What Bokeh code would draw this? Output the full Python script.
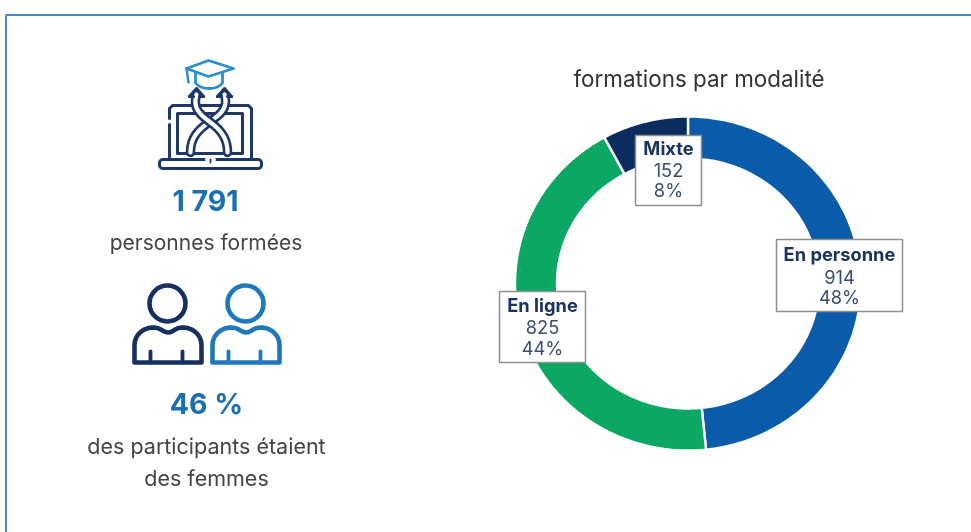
import numpy as np
from bokeh.plotting import figure
from bokeh.models import Range1d
from bokeh.core.properties import value
from bokeh.embed import file_html
from bokeh.resources import INLINE

categories = ["En personne", "En ligne", "Mixte"]
counts = [914, 825, 152]
percents = ["48%", "44%", "8%"]
colors = ["#0a5cab", "#0aa863", "#0b2c5e"]
title = "formations par modalité"
total_people = "1 791"
total_caption = "personnes formées"
women_share = "46 %"
women_caption = ["des participants étaient", "des femmes"]

W, H = 971, 532
FONT = value("Inter")
NAVY = "#1d3866"
MID = "#1f78bb"
LIGHT = "#2b8fd0"


def Y(y):
    return H - np.asarray(y, dtype=float)


p = figure(width=W, height=H, x_range=Range1d(0, W), y_range=Range1d(0, H),
           output_backend="svg", toolbar_location=None, min_border=0,
           styles={"position": "fixed", "left": "0px", "top": "0px"})
p.axis.visible = False
p.grid.visible = False
p.outline_line_color = None
p.background_fill_color = "white"
p.border_fill_color = "white"

# frame
p.line([5.5, 5.5, W], Y([H, 14.5, 14.5]), line_color="#4f86c6", line_width=2)


def bez(a, b, c, d, n=40):
    t = np.linspace(0, 1, n)[:, None]
    a, b, c, d = map(np.array, (a, b, c, d))
    return (1 - t) ** 3 * a + 3 * (1 - t) ** 2 * t * b + 3 * (1 - t) * t ** 2 * c + t ** 3 * d


def path(pts, color, w=3.0):
    pts = np.asarray(pts, dtype=float)
    p.line(pts[:, 0], Y(pts[:, 1]), line_color=color, line_width=w,
           line_join="round", line_cap="round")


def rrect(x0, y0, x1, y1, r):
    k = 0.55 * r
    return np.vstack([
        [[x0 + r, y0], [x1 - r, y0]],
        bez((x1 - r, y0), (x1 - r + k, y0), (x1, y0 + r - k), (x1, y0 + r), 8),
        [[x1, y1 - r]],
        bez((x1, y1 - r), (x1, y1 - r + k), (x1 - r + k, y1), (x1 - r, y1), 8),
        [[x0 + r, y1]],
        bez((x0 + r, y1), (x0 + r - k, y1), (x0, y1 - r + k), (x0, y1 - r), 8),
        [[x0, y0 + r]],
        bez((x0, y0 + r), (x0, y0 + r - k), (x0 + r - k, y0), (x0 + r, y0), 8),
    ])


# graduation / laptop icon
path([[169, 118], [169, 108], [172, 105], [248, 105], [251, 108], [251, 157]], NAVY)
path([[169, 124], [169, 157]], NAVY)
path([[177, 153], [177, 113], [242, 113], [242, 153], [177, 153]], NAVY)
path(rrect(159, 159, 261, 168, 3.5), NAVY)
path([[206, 159], [214, 159]], "white", 3)
path([[210, 159], [210, 162]], NAVY, 1.8)

strands = [((190, 152), (190, 118), (232, 122), (224, 94)),
           ((227, 152), (227, 118), (188, 122), (196, 94))]
for s in strands:
    c = bez(*s)
    path(c, NAVY, 9.5)
    path(c, "white", 4.2)
for x_, y_ in [(196, 88), (224, 88)]:
    path([[x_ - 7, y_ + 8], [x_, y_], [x_ + 7, y_ + 8]], NAVY, 3.0)
    path([[x_ - 7, y_ + 8], [x_ - 3, y_ + 8]], NAVY, 3.0)
    path([[x_ + 3, y_ + 8], [x_ + 7, y_ + 8]], NAVY, 3.0)

path([[186, 68], [208, 60], [233, 68], [208, 76], [186, 68]], LIGHT, 2.8)
path([[195, 72], [195, 82]], LIGHT, 2.8)
path(bez((195, 82), (200, 90), (217, 90), (222, 82)), LIGHT, 2.8)
path([[222, 82], [222, 72]], LIGHT, 2.8)
path([[186, 68], [188, 82]], LIGHT, 2.4)


def person(cx, color):
    p.circle([cx], Y([303]), radius=18, fill_color="white", line_color=color, line_width=4.6)
    outline = np.vstack([
        [[cx - 33, 362], [cx - 33, 345]],
        bez((cx - 33, 345), (cx - 33, 334), (cx - 24, 327), (cx - 14, 327), 14),
        bez((cx - 14, 327), (cx - 7, 327), (cx - 4, 332), (cx + 1, 332), 10),
        bez((cx + 1, 332), (cx + 5, 332), (cx + 8, 327), (cx + 15, 327), 10),
        bez((cx + 15, 327), (cx + 25, 327), (cx + 34, 334), (cx + 34, 345), 14),
        [[cx + 34, 362], [cx - 33, 362]],
    ])
    path(outline, color, 4.6)
    path([[cx - 17, 351], [cx - 17, 362]], color, 3.8)
    path([[cx + 15, 351], [cx + 15, 362]], color, 3.8)


person(167, "#16305f")
person(245, MID)

# left texts
def txt(x, y, s, size, color, bold=False):
    p.text([x], Y([y]), text=[s], text_font=FONT, text_font_size=f"{size}px",
           text_color=color, text_align="center", text_baseline="middle",
           text_font_style="bold" if bold else "normal")


txt(205, 200, total_people, 28.5, "#1a6fb0", True)
txt(205.5, 242, total_caption, 21, "#444444")
txt(206, 403, women_share, 28.5, "#1a6fb0", True)
txt(206, 445, women_caption[0], 21.5, "#444444")
txt(206, 477, women_caption[1], 21.5, "#444444")
txt(698.5, 78, title, 22.4, "#333333")

# donut
CX, CY = 687.5, 283.0
RXO, RYO, RXI, RYI = 173.0, 167.0, 131.0, 125.0
cum = np.concatenate([[0], np.cumsum(counts)]) / np.sum(counts) * 2 * np.pi
xs, ys = [], []
for a0, a1 in zip(cum[:-1], cum[1:]):
    th = np.linspace(a0, a1, 160)
    xs.append(np.concatenate([CX + RXO * np.sin(th), CX + RXI * np.sin(th[::-1])]))
    ys.append(np.concatenate([Y(CY - RYO * np.cos(th)), Y(CY - RYI * np.cos(th[::-1]))]))
p.patches(xs, ys, fill_color=colors, line_color="white", line_width=2.4)

# labels
boxes = [(776, 902, 239, 311, 253, 276, 296),
         (499, 585, 291, 362, 304, 326, 347),
         (635, 701, 135, 205, 147, 169, 189)]
for (x0, x1, y0, y1, a, b, c), cat, n, pct in zip(boxes, categories, counts, percents):
    p.quad(left=[x0], right=[x1], top=Y([y0]), bottom=Y([y1]),
           fill_color="white", line_color="#8f8f8f", line_width=1.5)
    xm = (x0 + x1) / 2
    txt(xm, a, cat, 18.3, "#1b3361", True)
    txt(xm, b, str(n), 18.3, "#3c4d70")
    txt(xm, c, pct, 18.3, "#3c4d70")

open("out.html", "w").write(file_html(p, INLINE))
